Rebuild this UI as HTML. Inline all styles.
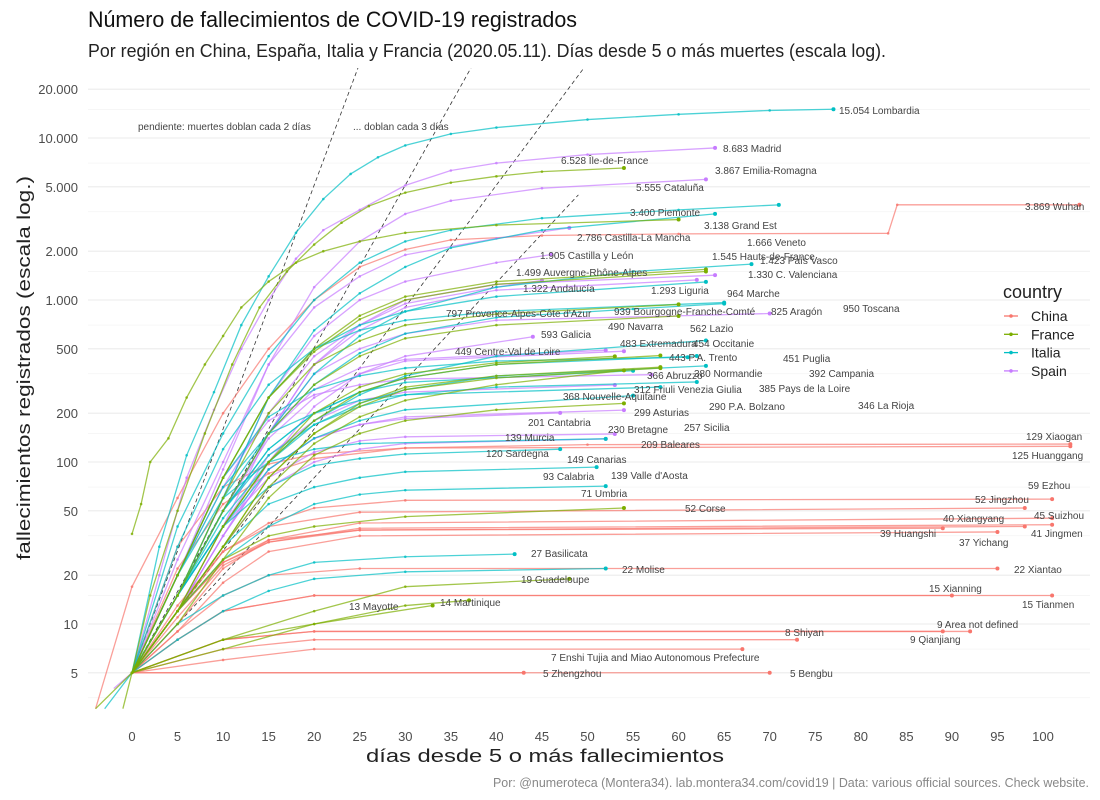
<!DOCTYPE html>
<html><head><meta charset="utf-8">
<style>
html,body{margin:0;padding:0;background:#fff;}
svg{display:block;font-family:"Liberation Sans Narrow","Liberation Sans",sans-serif;}
.tick{font-size:13px;fill:#4d4d4d;}
.lab{font-size:10px;fill:#444;}
</style></head>
<body>
<svg id="chart" width="1100" height="800" viewBox="0 0 1100 800" xmlns="http://www.w3.org/2000/svg">
<text x="88" y="27" font-size="22" fill="#111" textLength="489" lengthAdjust="spacingAndGlyphs">Número de fallecimientos de COVID-19 registrados</text>
<text x="88" y="57" font-size="18" fill="#222" textLength="798" lengthAdjust="spacingAndGlyphs">Por región en China, España, Italia y Francia (2020.05.11). Días desde 5 o más muertes (escala log).</text>
<defs><clipPath id="plotclip"><rect x="88" y="68" width="1002" height="650"/></clipPath></defs>
<g id="grid"></g>
<g id="refs" clip-path="url(#plotclip)"></g>
<g id="series" clip-path="url(#plotclip)"></g>
<g id="labels"></g>
<g id="axes"></g>
<text x="138" y="130" class="lab" fill="#555">pendiente: muertes doblan cada 2 días</text>
<text x="353" y="130" class="lab" fill="#555">... doblan cada 3 días</text>
<text x="366" y="762" font-size="18" fill="#222" textLength="358" lengthAdjust="spacingAndGlyphs">días desde 5 o más fallecimientos</text>
<text transform="translate(30,560) rotate(-90)" font-size="18" fill="#222" textLength="384" lengthAdjust="spacingAndGlyphs">fallecimientos registrados (escala log.)</text>
<text x="1089" y="787" text-anchor="end" font-size="13" fill="#888" textLength="596" lengthAdjust="spacingAndGlyphs">Por: @numeroteca (Montera34). lab.montera34.com/covid19 | Data: various official sources. Check website.</text>
<g id="legend"></g>
</svg>
<script>
// ---- data ----
const xTicks = [0,5,10,15,20,25,30,35,40,45,50,55,60,65,70,75,80,85,90,95,100];
const yTicks = [5,10,20,50,100,200,500,1000,2000,5000,10000,20000];
const yTickLabels = ["5","10","20","50","100","200","500","1.000","2.000","5.000","10.000","20.000"];
const doublingDays = [2,3,4,5];
const doublingEnd = [30,40,55,49];
const countries = ["China","France","Italia","Spain"];
const countryColors = ["#F8766D","#7CAE00","#00BFC4","#C77CFF"];

const seriesNames = ["Wuhan","Xiaogan","Huanggang","Ezhou","Jingzhou","Suizhou","Xiangyang","Jingmen","Huangshi","Yichang","Xiantao","Xianning","Tianmen","Area not defined","Qianjiang","Shiyan","Enshi Tujia and Miao Autonomous Prefecture","Bengbu","Zhengzhou",
"Madrid","Cataluña","Castilla-La Mancha","Castilla y León","C. Valenciana","País Vasco","Andalucía","Aragón","Galicia","Navarra","Extremadura","Asturias","Cantabria","Murcia","Canarias","Baleares","La Rioja",
"Lombardia","Emilia-Romagna","Piemonte","Veneto","Liguria","Marche","Toscana","Lazio","P.A. Trento","Puglia","Campania","Abruzzo","Friuli Venezia Giulia","P.A. Bolzano","Sicilia","Sardegna","Valle d'Aosta","Calabria","Umbria","Basilicata","Molise",
"Île-de-France","Grand Est","Hauts-de-France","Auvergne-Rhône-Alpes","Bourgogne-Franche-Comté","Provence-Alpes-Côte d'Azur","Occitanie","Normandie","Pays de la Loire","Nouvelle-Aquitaine","Bretagne","Centre-Val de Loire","Corse","Guadeloupe","Martinique","Mayotte"];
const seriesCountry = [0,0,0,0,0,0,0,0,0,0,0,0,0,0,0,0,0,0,0,
3,3,3,3,3,3,3,3,3,3,3,3,3,3,3,3,3,
2,2,2,2,2,2,2,2,2,2,2,2,2,2,2,2,2,2,2,2,2,
1,1,1,1,1,1,1,1,1,1,1,1,1,1,1,1];
const seriesPoints = [
[[-4,3],[0,17],[5,60],[10,200],[15,500],[20,1000],[25,1600],[30,2050],[35,2350],[45,2500],[60,2560],[83,2580],[84,3869],[104,3869]],
[[0,5],[5,22],[10,55],[15,85],[20,105],[30,122],[50,128],[103,129]],
[[0,5],[5,30],[10,70],[15,97],[20,112],[30,122],[103,125]],
[[0,5],[5,12],[10,28],[15,42],[20,52],[30,58],[101,59]],
[[0,5],[5,13],[10,28],[15,40],[25,49],[98,52]],
[[0,5],[5,10],[10,22],[15,33],[25,42],[101,45]],
[[0,5],[5,12],[10,24],[15,32],[25,38],[98,40]],
[[0,5],[5,11],[10,23],[15,32],[25,39],[101,41]],
[[0,5],[5,12],[10,24],[15,33],[25,38],[89,39]],
[[0,5],[5,9],[10,18],[15,28],[25,35],[95,37]],
[[0,5],[5,9],[10,15],[15,20],[25,22],[95,22]],
[[0,5],[5,8],[10,12],[20,15],[90,15]],
[[0,5],[5,8],[10,12],[20,15],[101,15]],
[[0,5],[10,8],[20,9],[92,9]],
[[0,5],[10,8],[20,9],[89,9]],
[[0,5],[10,7],[20,8],[73,8]],
[[0,5],[10,6],[20,7],[67,7]],
[[0,5],[70,5]],
[[0,5],[43,5]],
[[-2,4],[0,5],[3,20],[6,80],[9,210],[12,500],[15,1000],[18,1800],[21,2700],[25,3600],[30,5100],[35,6300],[40,7000],[50,7900],[64,8683]],
[[0,5],[5,25],[10,100],[15,400],[20,1200],[25,2300],[30,3400],[35,4100],[45,4900],[63,5555]],
[[0,5],[5,20],[10,90],[15,400],[20,900],[25,1400],[30,1900],[40,2400],[48,2786]],
[[0,5],[5,15],[10,60],[15,250],[20,600],[25,1000],[30,1300],[40,1700],[46,1905]],
[[0,5],[5,15],[10,50],[15,150],[20,400],[25,650],[30,900],[40,1150],[62,1330]],
[[0,5],[5,20],[10,70],[15,200],[20,450],[25,700],[30,1000],[40,1250],[64,1423]],
[[0,5],[5,15],[10,50],[15,150],[20,400],[25,700],[30,950],[40,1200],[45,1322]],
[[0,5],[5,15],[10,40],[15,150],[20,350],[25,500],[30,620],[40,750],[70,825]],
[[0,5],[5,12],[10,35],[15,100],[20,220],[25,350],[30,450],[44,593]],
[[0,5],[5,15],[10,50],[15,150],[20,280],[25,380],[30,430],[52,490]],
[[0,5],[5,15],[10,50],[15,140],[20,250],[25,350],[30,420],[54,483]],
[[0,5],[5,12],[10,40],[15,110],[20,180],[25,240],[30,270],[53,299]],
[[0,5],[5,12],[10,35],[15,90],[20,140],[25,170],[30,185],[47,201]],
[[0,5],[5,12],[10,30],[15,70],[20,100],[25,120],[30,130],[52,139]],
[[0,5],[5,15],[10,40],[15,80],[20,115],[25,135],[30,143],[53,149]],
[[0,5],[5,12],[10,35],[15,90],[20,140],[25,170],[30,190],[54,209]],
[[0,5],[5,20],[10,80],[15,180],[20,260],[25,300],[30,325],[57,346]],
[[-3,3],[0,5],[3,30],[6,110],[9,270],[12,700],[15,1400],[18,2600],[21,4200],[24,6000],[27,7600],[30,9000],[35,10600],[40,11600],[50,13000],[60,14000],[70,14800],[77,15054]],
[[0,5],[5,40],[10,150],[15,450],[20,1000],[25,1700],[30,2300],[35,2700],[45,3200],[60,3600],[71,3867]],
[[0,5],[5,15],[10,60],[15,250],[20,650],[25,1100],[30,1600],[35,2100],[45,2700],[64,3400]],
[[0,5],[5,15],[10,60],[15,150],[20,350],[25,600],[30,850],[40,1200],[55,1500],[68,1666]],
[[0,5],[5,20],[10,80],[15,250],[20,500],[25,700],[30,850],[40,1050],[63,1293]],
[[0,5],[5,30],[10,120],[15,300],[20,500],[25,650],[30,750],[40,850],[65,964]],
[[0,5],[5,15],[10,50],[15,150],[20,300],[25,470],[30,620],[40,780],[55,880],[65,950]],
[[0,5],[5,15],[10,45],[15,100],[20,180],[25,260],[30,340],[40,450],[63,562]],
[[0,5],[5,20],[10,80],[15,190],[20,280],[25,340],[30,380],[40,420],[61,443]],
[[0,5],[5,15],[10,50],[15,120],[20,200],[25,270],[30,330],[40,400],[62,451]],
[[0,5],[5,15],[10,40],[15,100],[20,170],[25,230],[30,280],[40,340],[63,392]],
[[0,5],[5,15],[10,50],[15,120],[20,200],[25,270],[30,310],[55,366]],
[[0,5],[5,15],[10,50],[15,110],[20,170],[25,220],[30,260],[40,290],[62,312]],
[[0,5],[5,20],[10,70],[15,150],[20,200],[25,240],[30,260],[58,290]],
[[0,5],[5,15],[10,40],[15,90],[20,140],[25,180],[30,210],[55,257]],
[[0,5],[5,15],[10,40],[15,70],[20,95],[25,105],[30,112],[47,120]],
[[0,5],[5,20],[10,60],[15,100],[20,120],[25,130],[52,139]],
[[0,5],[5,12],[10,30],[15,55],[20,70],[25,80],[30,87],[51,93]],
[[0,5],[5,12],[10,25],[15,40],[20,55],[25,63],[30,67],[52,71]],
[[0,5],[5,10],[10,15],[15,20],[20,24],[30,26],[42,27]],
[[0,5],[5,8],[10,12],[15,16],[20,19],[30,21],[52,22]],
[[-4,3],[0,5],[2,15],[5,50],[8,150],[11,400],[14,900],[17,1500],[20,2200],[23,3000],[26,3800],[30,4600],[35,5300],[40,5800],[45,6200],[54,6528]],
[[0,36],[1,55],[2,100],[4,140],[6,250],[8,400],[10,600],[12,900],[15,1300],[18,1700],[21,2000],[25,2300],[30,2600],[40,2900],[60,3138]],
[[0,5],[5,20],[10,80],[15,250],[20,500],[25,800],[30,1050],[40,1300],[63,1545]],
[[0,5],[5,20],[10,80],[15,250],[20,480],[25,760],[30,1000],[40,1250],[63,1499]],
[[0,5],[5,15],[10,60],[15,200],[20,400],[25,560],[30,700],[40,820],[60,939]],
[[0,5],[5,15],[10,50],[15,150],[20,300],[25,450],[30,580],[40,700],[60,797]],
[[0,5],[5,12],[10,40],[15,100],[20,180],[25,270],[30,330],[40,400],[58,454]],
[[0,5],[5,12],[10,30],[15,80],[20,150],[25,220],[30,280],[40,330],[58,380]],
[[0,5],[5,12],[10,30],[15,80],[20,150],[25,230],[30,290],[40,340],[58,385]],
[[0,5],[5,12],[10,30],[15,70],[20,130],[25,190],[30,240],[40,300],[54,368]],
[[0,5],[5,10],[10,25],[15,60],[20,110],[25,150],[30,180],[40,210],[54,230]],
[[0,5],[5,12],[10,40],[15,100],[20,200],[25,290],[30,350],[40,410],[53,449]],
[[0,5],[5,12],[10,25],[15,35],[20,40],[30,46],[54,52]],
[[0,5],[10,8],[20,12],[30,17],[48,19]],
[[0,5],[10,7],[20,10],[30,13],[37,14]],
[[-1,3],[0,5],[10,8],[20,10],[33,13]]
];
// label layout (pixel positions of the end labels; layout, not data)
const labelPos = [[1025,210],[1026,440],[1012,459],[1028,489],[975,503],[1034,519],[943,522],[1031,537],[880,537],[959,546],[1014,573],[929,592],[1022,608],[937,628],[910,643],[785,636],[551,661],[790,677],[543,677],
[723,152],[636,191],[577,241],[540,259],[748,278],[760,264],[523,292],[771,315],[541,338],[608,330],[620,347],[634,416],[528,426],[505,441],[567,463],[641,448],[858,409],
[839,114],[715,174],[630,216],[747,246],[651,294],[727,297],[843,312],[690,332],[669,361],[783,362],[809,377],[647,379],[634,393],[709,410],[684,431],[486,457],[611,479],[543,480],[581,497],[531,557],[622,573],
[561,164],[704,229],[712,260],[516,276],[614,315],[446,317],[693,347],[694,377],[759,392],[563,400],[608,433],[455,355],[685,512],[521,583],[440,606],[349,610]];

// ---- scales ----
const X0=132, XS=9.11, YREF=624, YDEC=162;
function xs(d){return X0+d*XS;}
function ys(v){return YREF-YDEC*Math.log10(v/10);}
function fmt(v){return String(Math.round(v)).replace(/\B(?=(\d{3})+(?!\d))/g,".");}
const NS="http://www.w3.org/2000/svg";
function mk(tag,attrs,parent){const e=document.createElementNS(NS,tag);for(const k in attrs)e.setAttribute(k,attrs[k]);parent.appendChild(e);return e;}

// grid
const grid=document.getElementById('grid');
const minorVals=[3.5,7,15,35,70,150,350,700,1500,3500,7000,15000];
minorVals.forEach(v=>{const l=mk('line',{x1:88,x2:1090,y1:ys(v),y2:ys(v),stroke:'#f2f2f2','stroke-width':0.6},grid);

});
yTicks.forEach(v=>{const l=mk('line',{x1:88,x2:1090,y1:ys(v),y2:ys(v),stroke:'#ebebeb','stroke-width':1.1},grid);

});

// axes tick labels
const axes=document.getElementById('axes');
xTicks.forEach(d=>{const t=mk('text',{x:xs(d),y:741,'text-anchor':'middle',class:'tick'},axes);t.textContent=d;

});
yTicks.forEach((v,i)=>{const t=mk('text',{x:78,y:ys(v)+5,'text-anchor':'end',class:'tick'},axes);t.textContent=yTickLabels[i];

});

// doubling lines
const refs=document.getElementById('refs');
doublingDays.forEach((k,i)=>{const d=doublingEnd[i];const l=mk('line',{x1:xs(0),y1:ys(5),x2:xs(d),y2:ys(5*Math.pow(2,d/k)),stroke:'#333','stroke-width':0.8,'stroke-dasharray':'4,3'},refs);

});

// series
const sg=document.getElementById('series');
const lg=document.getElementById('labels');
seriesPoints.forEach((pts,i)=>{
  const c=countryColors[seriesCountry[i]];
  const p=mk('polyline',{points:pts.map(q=>xs(q[0])+','+ys(q[1])).join(' '),fill:'none',stroke:c,'stroke-width':1.3,'stroke-opacity':0.7},sg);
  
  
  pts.forEach(q=>{if(q[0]<0)return;const dot=mk('circle',{cx:xs(q[0]),cy:ys(q[1]),r:1.3,fill:c,'fill-opacity':0.8},sg);
    
    });
  const last=pts[pts.length-1];
  const end=mk('circle',{cx:xs(last[0]),cy:ys(last[1]),r:2,fill:c},sg);
  
  
  const lp=labelPos[i];
  const t=mk('text',{x:lp[0],y:lp[1],class:'lab'},lg);
  t.textContent=fmt(last[1])+' '+seriesNames[i];
  
  
});

// legend
const leg=document.getElementById('legend');
const lt=mk('text',{x:1003,y:298,'font-size':18,fill:'#222'},leg);lt.textContent='country';


countries.forEach((n,i)=>{const y=316+i*18.3;
  const l=mk('line',{x1:1004,x2:1018,y1:y,y2:y,stroke:countryColors[i],'stroke-width':1.3},leg);
  
  
  const c=mk('circle',{cx:1011,cy:y,r:1.8,fill:countryColors[i]},leg);
  
  
  const t=mk('text',{x:1031,y:y+5,'font-size':14,fill:'#222'},leg);t.textContent=n;
  
  });
</script>
</body></html>
